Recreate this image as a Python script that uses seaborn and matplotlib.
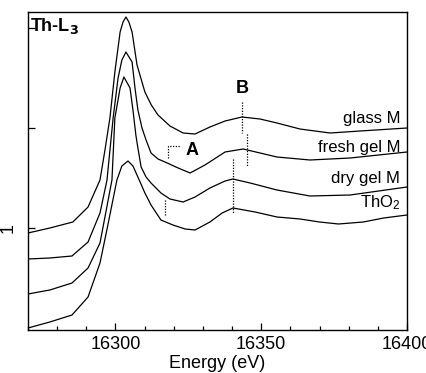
import numpy as np
import pandas as pd
import matplotlib
matplotlib.use("Agg")
import matplotlib.pyplot as plt
import seaborn as sns

## Data (energy in eV, offset normalised absorption)
glass_e = [16270, 16277.5, 16285.4, 16290.6, 16294.7, 16296.4, 16298.1, 16299.8, 16301.6,
           16302.6, 16303.6, 16304.6, 16305.7, 16307.4, 16310.1, 16312.3, 16314.6, 16318.7, 16323.2,
           16327.3, 16332.4, 16337.6, 16343.4, 16349.6, 16355.4, 16363.3, 16373.6, 16383.9, 16400]
glass_v = [0.95, 1.00, 1.06, 1.21, 1.48, 1.78, 2.10, 2.56, 2.96,
           3.06, 3.11, 3.06, 2.96, 2.63, 2.36, 2.23, 2.13, 2.02, 1.95,
           1.94, 2.01, 2.07, 2.11, 2.09, 2.05, 1.99, 1.95, 1.97, 2.00]

fresh_e = [16270, 16277.5, 16285.1, 16290.6, 16294.7, 16297.1, 16299.2, 16300.9, 16302.2,
           16303.6, 16305.7, 16306.7, 16307.7, 16309.1, 16310.5, 16312.2, 16314.6, 16317.0,
           16321.5, 16325.6, 16330.7, 16337.6, 16343.8, 16349.6, 16355.4, 16366.7, 16380.5, 16400]
fresh_v = [0.69, 0.70, 0.72, 0.86, 1.15, 1.48, 2.10, 2.50, 2.68,
           2.76, 2.66, 2.40, 2.18, 2.00, 1.88, 1.75, 1.69, 1.66,
           1.60, 1.55, 1.63, 1.76, 1.79, 1.75, 1.71, 1.68, 1.70, 1.76]

dry_e = [16270, 16277.5, 16285.1, 16290.6, 16294.7, 16298.8, 16299.8, 16301.6, 16302.9,
         16305.0, 16306.0, 16307.0, 16307.7, 16308.8, 16310.5, 16312.2, 16315.6, 16318.7,
         16323.2, 16327.3, 16332.4, 16337.6, 16340.3, 16346.2, 16355.4, 16366.7, 16380.5, 16400]
dry_v = [0.34, 0.38, 0.45, 0.60, 0.85, 1.48, 2.10, 2.40, 2.51,
         2.40, 2.18, 1.93, 1.80, 1.61, 1.51, 1.45, 1.35, 1.29,
         1.26, 1.31, 1.40, 1.47, 1.49, 1.45, 1.38, 1.32, 1.33, 1.41]

tho2_e = [16270, 16277.5, 16285.1, 16290.6, 16294.7, 16297.4, 16300.5, 16302.2, 16304.3,
          16306.0, 16307.7, 16310.1, 16312.2, 16315.6, 16319.7, 16323.9, 16327.3, 16332.4,
          16336.6, 16340.3, 16347.9, 16355.4, 16363.3, 16370.0, 16376.5, 16385.0, 16392.0, 16400]
tho2_v = [0.00, 0.06, 0.13, 0.31, 0.65, 1.03, 1.48, 1.62, 1.67,
          1.62, 1.51, 1.35, 1.23, 1.08, 1.03, 0.99, 0.98, 1.06,
          1.15, 1.20, 1.16, 1.11, 1.09, 1.06, 1.04, 1.06, 1.10, 1.13]

labels = ["glass M", "fresh gel M", "dry gel M", "ThO$_2$"]
label_v = [2.05, 1.76, 1.45, 1.21]

sns.set_style("ticks")
plt.rcParams['font.family'] = ['Liberation Sans', 'DejaVu Sans']
plt.rcParams['mathtext.default'] = 'regular'
for k in ['text.color', 'axes.labelcolor', 'xtick.color', 'ytick.color', 'axes.edgecolor']:
    plt.rcParams[k] = 'black'

fig = plt.figure(figsize=(4.26, 3.73), dpi=100)
ax = fig.add_axes([0.0657, 0.1153, 0.8897, 0.8525])

for e, v in [(glass_e, glass_v), (fresh_e, fresh_v), (dry_e, dry_v), (tho2_e, tho2_v)]:
    sns.lineplot(x=e, y=v, ax=ax, color='black', lw=0.9, sort=False, estimator=None)

## feature markers
dot = dict(color='black', lw=0.9, ls=(0, (1, 1.2)))
ax.plot([16343.4, 16343.4], [2.26, 1.95], **dot)
ax.plot([16345.1, 16345.1], [1.94, 1.61], **dot)
ax.plot([16340.3, 16340.3], [1.69, 1.15], **dot)
ax.plot([16317.9, 16317.9, 16322.1], [1.70, 1.82, 1.82], **dot)
ax.plot([16317.0, 16317.0], [1.28, 1.13], **dot)

ax.text(16326.3, 1.73, "A", fontsize=13, fontweight='bold', ha='center', va='baseline')
ax.text(16343.6, 2.35, "B", fontsize=13, fontweight='bold', ha='center', va='baseline')
ax.text(0.005, 0.94, r"Th-L$_\mathbf{3}$", transform=ax.transAxes, fontsize=13,
        fontweight='bold', ha='left', va='baseline')
for lab, v in zip(labels, label_v):
    ax.text(16397.6, v, lab, fontsize=12, ha='right', va='baseline')

ax.set_xlim(16270, 16400)
ax.set_ylim(-0.02, 3.16)
ax.set_xticks([16300, 16350, 16400])
ax.set_xticks(np.arange(16270, 16401, 10), minor=True)
ax.set_yticks([1, 2, 3])
ax.set_yticklabels(["1", "", ""], rotation=90, va='center')
ax.tick_params(direction='in', length=5, width=0.9, labelsize=13, pad=4)
ax.tick_params(which='minor', direction='in', length=3, width=0.9)
ax.tick_params(axis='y', pad=8)
ax.set_xlabel("Energy (eV)", fontsize=13, labelpad=2)
for s in ax.spines.values():
    s.set_linewidth(1.0)

fig.savefig("out.png", dpi=100)
